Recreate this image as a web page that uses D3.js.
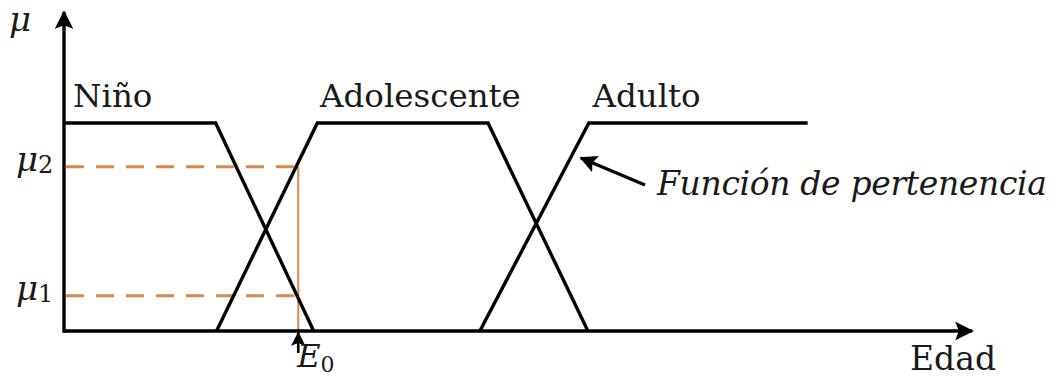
<!DOCTYPE html>
<html>
<head>
<meta charset="utf-8">
<script src="https://cdn.jsdelivr.net/npm/d3@7"></script>
<style>
  body { margin: 0; background: #fff; }
  text { font-family: "DejaVu Serif", serif; fill: #1a1a1a; }
</style>
</head>
<body>
<script>
// membership functions (age units 0..100, membership 0..1)
const categories = ["Niño", "Adolescente", "Adulto"]
const ninoAge = [0, 16.7, 27.5]
const ninoMu = [1, 1, 0]
const adolescenteAge = [16.8, 27.9, 46.7, 57.7]
const adolescenteMu = [0, 1, 1, 0]
const adultoAge = [45.8, 57.8, 81.9]
const adultoMu = [0, 1, 1]
const labelAge = [1, 28.2, 58.2]

const e0 = 25.8
const muLevels = [0.17, 0.79]
const muNames = ["1", "2"]

const W = 1058, H = 378
const x = d3.scaleLinear().domain([0, 100]).range([64, 972])
const y = d3.scaleLinear().domain([0, 1]).range([331, 123])

const svg = d3.select('body')
	.append('svg')
	.attr('width', W)
	.attr('height', H)

const defs = svg.append('defs')
defs.append('marker')
	.attr('id', 'arrow')
	.attr('viewBox', '0 0 10 10')
	.attr('refX', 9).attr('refY', 5)
	.attr('markerWidth', 5.5).attr('markerHeight', 5.5)
	.attr('markerUnits', 'strokeWidth')
	.attr('orient', 'auto')
	.append('path')
	.attr('d', 'M0,0 L10,5 L0,10 L2,5 z')
	.attr('fill', '#000')

// orange guides for E0
svg.selectAll('.guide')
	.data(muLevels)
	.enter().append('line')
	.attr('x1', x(0)).attr('x2', x(e0))
	.attr('y1', d => y(d)).attr('y2', d => y(d))
	.style('stroke', '#d98a4a')
	.style('stroke-width', 3)
	.style('stroke-dasharray', '18,12')
	.style('stroke-dashoffset', -2)

svg.append('line')
	.attr('x1', x(e0)).attr('x2', x(e0))
	.attr('y1', y(0)).attr('y2', y(d3.max(muLevels)))
	.style('stroke', '#e0904f')
	.style('stroke-width', 2.2)

// axes
svg.append('line')
	.attr('x1', x(0)).attr('y1', y(0))
	.attr('x2', x(100)).attr('y2', y(0))
	.style('stroke', '#000').style('stroke-width', 3.4)
	.attr('marker-end', 'url(#arrow)')

svg.append('line')
	.attr('x1', x(0)).attr('y1', y(0) + 1.7)
	.attr('x2', x(0)).attr('y2', y(1.533))
	.style('stroke', '#000').style('stroke-width', 3.4)
	.attr('marker-end', 'url(#arrow)')

// membership curves
const line = d3.line().x(d => x(d[0])).y(d => y(d[1]))
const series = [
	d3.zip(ninoAge, ninoMu),
	d3.zip(adolescenteAge, adolescenteMu),
	d3.zip(adultoAge, adultoMu)
]
svg.selectAll('.fn')
	.data(series)
	.enter().append('path')
	.attr('d', line)
	.attr('fill', 'none')
	.style('stroke', '#000')
	.style('stroke-width', 3.4)
	.style('stroke-linejoin', 'miter')

svg.selectAll('.lbl')
	.data(categories)
	.enter().append('text')
	.attr('x', (d, i) => x(labelAge[i]))
	.attr('y', y(1) - 16)
	.style('font-size', '32.5px')
	.text(d => d)

// small arrow under E0
svg.append('line')
	.attr('x1', x(e0)).attr('y1', y(0) + 22)
	.attr('x2', x(e0)).attr('y2', y(0) + 2)
	.style('stroke', '#000').style('stroke-width', 2.6)
	.attr('marker-end', 'url(#arrow)')

// annotation arrow
svg.append('line')
	.attr('x1', 645).attr('y1', 185)
	.attr('x2', 581).attr('y2', 158)
	.style('stroke', '#000').style('stroke-width', 3.2)
	.attr('marker-end', 'url(#arrow)')

svg.append('text')
	.attr('x', 657).attr('y', 195)
	.attr('textLength', 390)
	.style('font-size', '33px').style('font-style', 'italic')
	.text('Función de pertenencia')

svg.append('text')
	.attr('x', x(100) - 62).attr('y', 370)
	.style('font-size', '33px')
	.text('Edad')

// y labels
svg.append('text')
	.attr('x', 9).attr('y', 31)
	.style('font-size', '34px').style('font-style', 'italic')
	.text('μ')

const muLbl = svg.selectAll('.mul')
	.data(muLevels)
	.enter().append('text')
	.attr('x', 16).attr('y', d => y(d) + 4)
	.style('font-size', '34px')
muLbl.append('tspan').style('font-style', 'italic').text('μ')
muLbl.append('tspan').attr('dy', 2).style('font-size', '24px').text((d, i) => muNames[i])

const eLbl = svg.append('text')
	.attr('x', x(e0) - 1).attr('y', 367)
	.style('font-size', '32px')
eLbl.append('tspan').style('font-style', 'italic').text('E')
eLbl.append('tspan').attr('dy', 5).style('font-size', '22px').text('0')
</script>
</body>
</html>
